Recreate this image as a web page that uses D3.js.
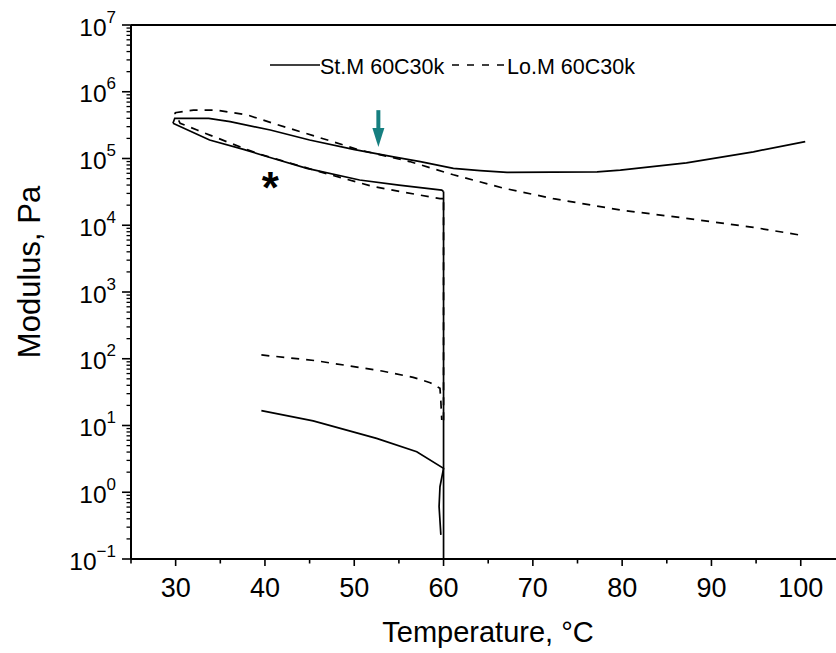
<!DOCTYPE html>
<html>
<head>
<meta charset="utf-8">
<script src="https://cdn.jsdelivr.net/npm/d3@7"></script>
<style>
  body { margin: 0; background: #fff; }
  text { font-family: "Liberation Sans", Arial, sans-serif; fill: #000; }
</style>
</head>
<body>
<div id="chart"></div>
<script>
// St.M 60C30k (solid) : [temperature, modulus]
var stIsotherm = [[60, 0.1], [60, 3.2e4]];
var stCooling = [[60, 3.2e4], [59.8, 3.37e4], [55, 4.0e4], [50.6, 4.76e4], [44.7, 7.1e4],
    [40, 1.09e5], [37.6, 1.37e5], [33.8, 1.89e5], [29.7, 3.37e5]];
var stHeating = [[29.7, 3.37e5], [29.9, 4.0e5], [33.7, 4.0e5], [36.1, 3.56e5], [40.6, 2.67e5],
    [45, 1.89e5], [49.9, 1.37e5], [54.4, 1.06e5], [57.4, 8.96e4], [61.1, 7.1e4], [64.1, 6.6e4],
    [67.1, 6.2e4], [77.2, 6.3e4], [79.8, 6.7e4], [87.2, 8.6e4], [94.7, 1.26e5], [100.5, 1.79e5]];
var stLow = [[39.6, 16.7], [45.4, 11.7], [52.5, 6.4], [57, 4.05], [60, 2.28], [59.6, 1.21],
    [59.5, 0.61], [59.7, 0.23]];

// Lo.M 60C30k (dashed)
var loIsotherm = [[60, 12], [60, 2.5e4]];
var loCooling = [[60, 2.5e4], [59.6, 2.5e4], [52.1, 3.8e4], [46.2, 6.3e4], [39.1, 1.2e5],
    [35.7, 1.79e5], [32.4, 2.67e5], [30.5, 3.37e5], [29.9, 4.85e5]];
var loHeating = [[29.9, 4.85e5], [32, 5.3e5], [34.6, 5.3e5], [38, 4.5e5], [40.9, 3.37e5],
    [45.8, 2.12e5], [50.6, 1.34e5], [56.2, 9.0e4], [61.1, 5.7e4], [66.7, 3.6e4], [72.3, 2.5e4],
    [79.8, 1.69e4], [87.2, 1.27e4], [94.7, 9.3e3], [100, 7.1e3]];
var loLow = [[39.6, 114], [45.7, 93.5], [49.3, 78.7], [53.1, 65.5], [56.6, 52.7], [58.5, 43.8],
    [59.6, 36], [59.7, 22.7], [59.8, 12.1]];

// ticks
var xMajor = [30, 40, 50, 60, 70, 80, 90, 100];
var xMinor = [25, 35, 45, 55, 65, 75, 85, 95, 105];
var yExponents = [-1, 0, 1, 2, 3, 4, 5, 6, 7];

// annotations
var arrowT = 52.7, arrowFrom = 5.3e5, arrowTo = 1.49e5;
var starT = 40.6, starG = 5.3e4;

var W = 836, H = 653;

var svg = d3.select("#chart").append("svg")
    .attr("width", W)
    .attr("height", H);

svg.append("rect").attr("width", W).attr("height", H).attr("fill", "#fff");

var x = d3.scaleLinear().domain([25, 105]).range([131, 845.4]);
var y = d3.scaleLog().domain([0.1, 1e7]).range([559, 25]);

var line = d3.line()
    .x(function(d) { return x(d[0]); })
    .y(function(d) { return y(d[1]); });

// x axis
var xAxis = svg.append("g").attr("transform", "translate(0,559)");
xAxis.selectAll("line.maj").data(xMajor).join("line")
    .attr("x1", function(d) { return x(d); }).attr("x2", function(d) { return x(d); })
    .attr("y1", 0).attr("y2", 7)
    .attr("stroke", "#000").attr("stroke-width", 1.6);
xAxis.selectAll("line.min").data(xMinor).join("line")
    .attr("x1", function(d) { return x(d); }).attr("x2", function(d) { return x(d); })
    .attr("y1", 0).attr("y2", 4.5)
    .attr("stroke", "#000").attr("stroke-width", 1.6);
xAxis.selectAll("text").data(xMajor).join("text")
    .attr("x", function(d) { return x(d); })
    .attr("y", 38)
    .attr("text-anchor", "middle")
    .style("font-size", "27px")
    .text(function(d) { return d; });

// y axis
var yAxis = svg.append("g").attr("transform", "translate(131,0)");
var yMinor = [];
yExponents.slice(0, -1).forEach(function(e) {
    for (var k = 2; k <= 9; k++) yMinor.push(k * Math.pow(10, e));
});
yAxis.selectAll("line.maj").data(yExponents).join("line")
    .attr("x1", -9).attr("x2", 0)
    .attr("y1", function(d) { return y(Math.pow(10, d)); })
    .attr("y2", function(d) { return y(Math.pow(10, d)); })
    .attr("stroke", "#000").attr("stroke-width", 1.6);
yAxis.selectAll("line.min").data(yMinor).join("line")
    .attr("x1", -4.5).attr("x2", 0)
    .attr("y1", function(d) { return y(d); })
    .attr("y2", function(d) { return y(d); })
    .attr("stroke", "#000").attr("stroke-width", 1.3);
var yLab = yAxis.selectAll("text").data(yExponents).join("text")
    .attr("x", -15)
    .attr("y", function(d) { return y(Math.pow(10, d)) + 10.5; })
    .attr("text-anchor", "end")
    .style("font-size", "24.5px");
yLab.append("tspan").text("10");
yLab.append("tspan")
    .attr("dy", -13)
    .style("font-size", "17px")
    .text(function(d) { return d < 0 ? "\u2212" + (-d) : d; });

// frame lines
svg.append("line").attr("x1", x(25)).attr("x2", x(105)).attr("y1", y(1e7)).attr("y2", y(1e7))
    .attr("stroke", "#000").attr("stroke-width", 2);
svg.append("line").attr("x1", x(25)).attr("x2", x(105)).attr("y1", y(0.1)).attr("y2", y(0.1))
    .attr("stroke", "#000").attr("stroke-width", 2);
svg.append("line").attr("x1", x(25)).attr("x2", x(25)).attr("y1", y(1e7)).attr("y2", y(0.1))
    .attr("stroke", "#000").attr("stroke-width", 2);

// data
var solid = [stIsotherm, stCooling, stHeating, stLow];
var dashed = [loIsotherm, loCooling, loHeating, loLow];

svg.append("g").selectAll("path").data(dashed).join("path")
    .attr("d", line)
    .attr("fill", "none")
    .attr("stroke", "#000")
    .attr("stroke-width", 1.7)
    .attr("stroke-dasharray", "8,7");

svg.append("g").selectAll("path").data(solid).join("path")
    .attr("d", line)
    .attr("fill", "none")
    .attr("stroke", "#000")
    .attr("stroke-width", 1.7);

// legend
var leg = svg.append("g");
leg.append("line").attr("x1", 270).attr("x2", 320).attr("y1", 65).attr("y2", 65)
    .attr("stroke", "#000").attr("stroke-width", 1.6);
leg.append("text").attr("x", 320).attr("y", 74).style("font-size", "21.5px").text("St.M 60C30k");
leg.append("line").attr("x1", 452).attr("x2", 505).attr("y1", 65).attr("y2", 65)
    .attr("stroke", "#000").attr("stroke-width", 1.6).attr("stroke-dasharray", "7,8");
leg.append("text").attr("x", 507).attr("y", 74).style("font-size", "21.5px").text("Lo.M 60C30k");

// teal arrow
var ax = x(arrowT), ay1 = y(arrowFrom), ay2 = y(arrowTo);
svg.append("line").attr("x1", ax).attr("x2", ax).attr("y1", ay1).attr("y2", ay2 - 16)
    .attr("stroke", "#167f80").attr("stroke-width", 4);
svg.append("path")
    .attr("d", "M" + (ax - 6) + "," + (ay2 - 19) + "L" + (ax + 6) + "," + (ay2 - 19) + "L" + ax + "," + ay2 + "Z")
    .attr("fill", "#167f80");

// asterisk
svg.append("text")
    .attr("x", x(starT)).attr("y", y(starG) + 26)
    .attr("text-anchor", "middle")
    .style("font-size", "44px").style("font-weight", "bold")
    .text("*");

// axis titles
svg.append("text")
    .attr("x", 488).attr("y", 642)
    .attr("text-anchor", "middle")
    .style("font-size", "29px")
    .text("Temperature, \u00B0C");
svg.append("text")
    .attr("transform", "translate(40,272) rotate(-90)")
    .attr("text-anchor", "middle")
    .style("font-size", "31px")
    .text("Modulus, Pa");
</script>
</body>
</html>
